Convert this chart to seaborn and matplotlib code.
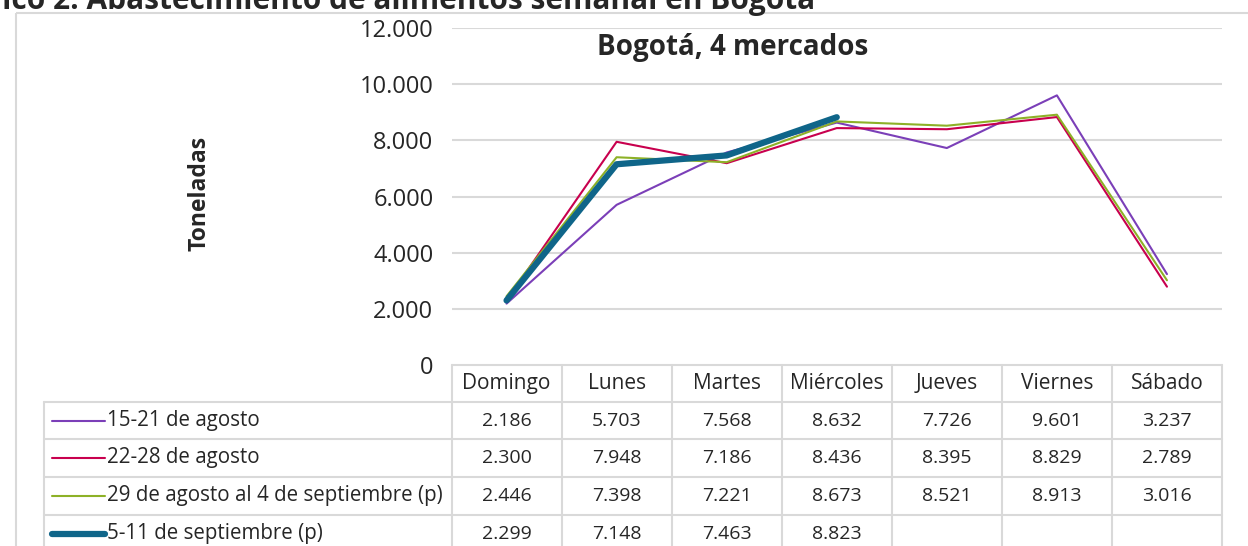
import pandas as pd
import matplotlib
matplotlib.use("Agg")
import matplotlib.pyplot as plt
import seaborn as sns
from matplotlib.ticker import FuncFormatter
from matplotlib.transforms import Affine2D
from matplotlib.lines import Line2D
from matplotlib.patches import Rectangle

# data
dias = ["Domingo", "Lunes", "Martes", "Miércoles", "Jueves", "Viernes", "Sábado"]
series = ["15-21 de agosto", "22-28 de agosto",
          "29 de agosto al 4 de septiembre (p)", "5-11 de septiembre (p)"]
ago_15_21 = [2186, 5703, 7568, 8632, 7726, 9601, 3237]
ago_22_28 = [2300, 7948, 7186, 8436, 8395, 8829, 2789]
ago29_sep4 = [2446, 7398, 7221, 8673, 8521, 8913, 3016]
sep_5_11 = [2299, 7148, 7463, 8823]

colores = ["#7B3FB8", "#C8004E", "#8DB127", "#0F6589"]
grosores = [1.5, 1.5, 1.5, 4.5]

valores = [ago_15_21, ago_22_28, ago29_sep4, sep_5_11]
rows = []
for s, vals in zip(series, valores):
    for i, v in enumerate(vals):
        rows.append({"dia": i, "valor": v, "serie": s})
df = pd.DataFrame(rows)

def miles(v):
    return f"{v:,.0f}".replace(",", ".")

sns.set_style("white")
plt.rcParams["font.family"] = ["Open Sans", "DejaVu Sans"]

W, H = 1248, 546
fig = plt.figure(figsize=(W / 100, H / 100), dpi=100)
pix = Affine2D().scale(1 / W, -1 / H).translate(0, 1) + fig.transFigure

# outer chart frame
fig.patches.append(Rectangle((16, 13), W, H, transform=pix, fill=False,
                             edgecolor="#D9D9D9", lw=1.5))
fig.text(815, 9, "Gráfico 2. Abastecimiento de alimentos semanal en Bogotá",
         transform=pix, ha="right", va="baseline", fontsize=21.5, fontweight="bold")

x0, x1, ytop, ybot = 451.5, 1222, 28, 365
ax = fig.add_axes([x0 / W, 1 - ybot / H, (x1 - x0) / W, (ybot - ytop) / H])
sns.lineplot(data=df, x="dia", y="valor", hue="serie", hue_order=series,
             size="serie", size_order=series,
             sizes=dict(zip(series, grosores)),
             palette=dict(zip(series, colores)), legend=False, ax=ax,
             solid_capstyle="round", solid_joinstyle="round")
ax.set_xlim(-0.5, 6.5)
ax.set_ylim(0, 12000)
ax.set_yticks(range(0, 12001, 2000))
ax.yaxis.set_major_formatter(FuncFormatter(lambda v, p: miles(v)))
ax.grid(axis="y", color="#D9D9D9", lw=1.5)
ax.set_axisbelow(True)
ax.tick_params(axis="y", length=0, pad=13, labelsize=17)
ax.set_xticks([])
ax.set_xlabel("")
ax.set_ylabel("")
for sp in ax.spines.values():
    sp.set_visible(False)
ax.get_ygridlines()[0].set_visible(False)

fig.text(733, 48, "Bogotá, 4 mercados", transform=pix, ha="center", va="center",
         fontsize=20, fontweight="bold")
fig.text(200, 193, "Toneladas", transform=pix, ha="center", va="center",
         rotation=90, fontsize=16.5, fontweight="bold")

# data table
gc = "#D9D9D9"
colw = (x1 - x0) / 7
row_y = [365, 402, 439, 477, 515, 553]
leg_x = 44
for i in range(8):
    xx = x0 + i * colw
    fig.add_artist(Line2D([xx, xx], [row_y[0], H], transform=pix, color=gc, lw=1.5))
fig.add_artist(Line2D([leg_x, leg_x], [row_y[1], H], transform=pix, color=gc, lw=1.5))
fig.add_artist(Line2D([x0, x1], [row_y[0], row_y[0]], transform=pix, color=gc, lw=1.5))
for yy in row_y[1:5]:
    fig.add_artist(Line2D([leg_x, x1], [yy, yy], transform=pix, color=gc, lw=1.5))

for i, d in enumerate(dias):
    fig.text(x0 + (i + 0.5) * colw, (row_y[0] + row_y[1]) / 2, d, transform=pix,
             ha="center", va="center", fontsize=15)

for r, (s, vals, c, g) in enumerate(zip(series, valores, colores, grosores)):
    yc = (row_y[r + 1] + row_y[r + 2]) / 2
    fig.add_artist(Line2D([52, 105], [yc, yc], transform=pix, color=c, lw=g,
                          solid_capstyle="round"))
    fig.text(107, yc, s, transform=pix, ha="left", va="center", fontsize=14.8)
    for i, v in enumerate(vals):
        fig.text(x0 + (i + 0.5) * colw, yc, miles(v), transform=pix,
                 ha="center", va="center", fontsize=14)

fig.savefig("out.png", dpi=100, facecolor="white")
